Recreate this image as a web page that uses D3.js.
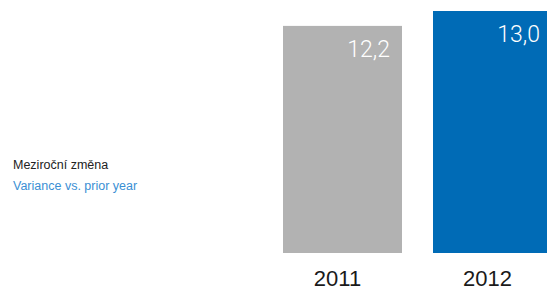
<!DOCTYPE html>
<html><head><meta charset="utf-8">
<script src="https://cdn.jsdelivr.net/npm/d3@7"></script>
<style>body{margin:0;background:#fff}svg{display:block}</style>
</head><body>
<script>
const categories = ["2011", "2012"];
const values = [12.2, 13.0];
const valueLabels = ["12,2", "13,0"];
const colors = ["#b2b2b2", "#006bb6"];
const legendLines = ["Meziroční změna", "Variance vs. prior year"];

const W = 547, H = 291;
const svg = d3.select("body").append("svg").attr("width", W).attr("height", H);

const x = d3.scaleBand().domain(categories).range([283, 552]).paddingInner(31/150).paddingOuter(0);
const y = d3.scaleLinear().domain([0, 13]).range([253, 11]);

svg.selectAll("rect.bar").data(values).join("rect")
  .attr("class", "bar")
  .attr("x", (d, i) => x(categories[i]))
  .attr("y", d => y(d))
  .attr("width", x.bandwidth())
  .attr("height", d => y(0) - y(d))
  .attr("fill", (d, i) => colors[i]);

svg.selectAll("text.val").data(values).join("text")
  .attr("class", "val")
  .attr("x", (d, i) => x(categories[i]) + x.bandwidth() - 12)
  .attr("y", d => y(d) + 31)
  .attr("text-anchor", "end")
  .attr("font-family", "Roboto, 'Liberation Sans', sans-serif")
  .attr("font-weight", 300)
  .attr("font-size", 23)
  .attr("fill", "#fff")
  .text((d, i) => valueLabels[i]);

const axis = d3.axisBottom(x).tickSize(0).tickPadding(0);
const g = svg.append("g").attr("transform", "translate(0,270)").call(axis);
g.select(".domain").remove();
g.selectAll("text")
  .attr("dy", "0.71em")
  .attr("dx", -5)
  .attr("font-family", "'Liberation Sans', Arial, sans-serif")
  .attr("font-size", 22)
  .attr("fill", "#1a1a1a");

svg.selectAll("text.leg").data(legendLines).join("text")
  .attr("class", "leg")
  .attr("x", 13)
  .attr("y", (d, i) => 169 + i * 21)
  .attr("font-family", "'Liberation Sans', Arial, sans-serif")
  .attr("font-size", 12.5)
  .attr("fill", (d, i) => i === 0 ? "#222" : "#3a8fd4")
  .text(d => d);
</script>
</body></html>
